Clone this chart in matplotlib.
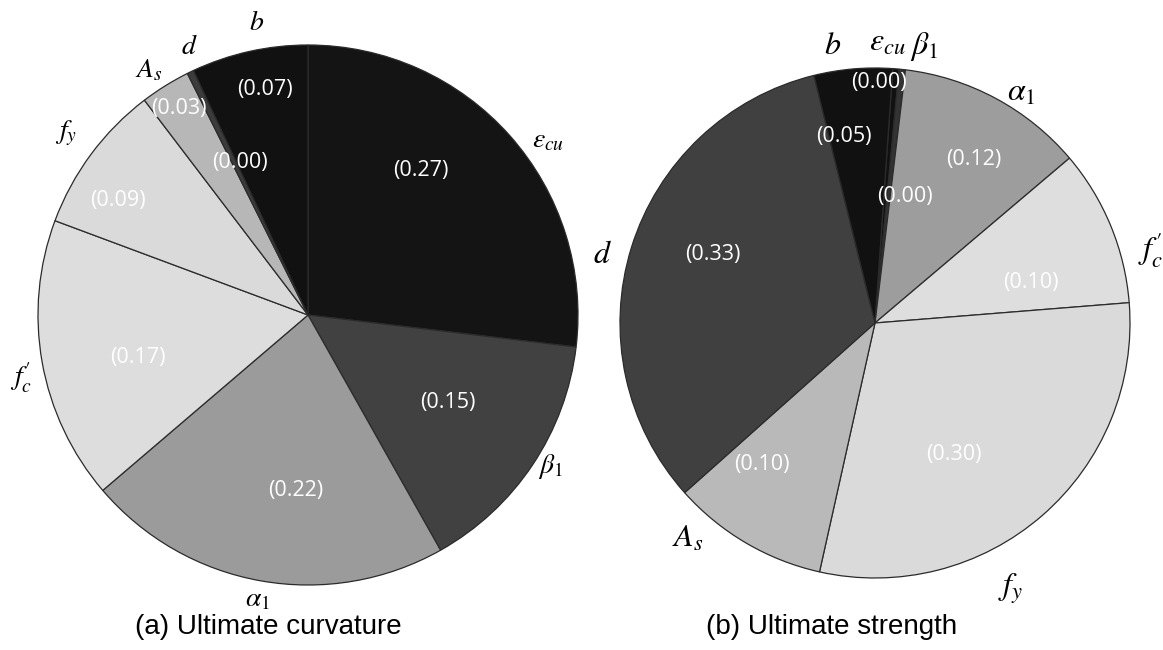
import numpy as np
import matplotlib
matplotlib.use("Agg")
import matplotlib.pyplot as plt

plt.rcParams["mathtext.fontset"] = "stix"
plt.rcParams["font.family"] = ["Liberation Sans", "DejaVu Sans"]

# Sensitivity indices of each input parameter
params = ["eps_cu", "beta1", "alpha1", "fc", "fy", "As", "d", "b"]
param_labels = [r"$\varepsilon_{cu}$", r"$\beta_1$", r"$\alpha_1$",
                r"$f^{\prime}_{c}$", r"$f_y$", r"$A_s$", r"$d$", r"$b$"]
curvature_values = [0.27, 0.15, 0.22, 0.17, 0.09, 0.03, 0.004, 0.07]
strength_values = [0.004, 0.004, 0.12, 0.10, 0.30, 0.10, 0.33, 0.05]
captions = ["(a) Ultimate curvature", "(b) Ultimate strength"]

curvature_colors = ["#141414", "#414141", "#9b9b9b", "#dddddd",
                    "#dadada", "#b7b7b7", "#3c3c3c", "#111111"]
strength_colors = ["#111111", "#333333", "#9d9d9d", "#dedede",
                   "#dadada", "#b9b9b9", "#404040", "#111111"]

# Label placement (polar angle in degrees, radius as fraction of pie radius)
curv_value_pos = [(52, 0.68), (-32, 0.61), (-94, 0.65), (-166, 0.65),
                  (149, 0.82), (122, 0.90), (114, 0.62), (100.8, 0.85)]
curv_name_pos = [(36, 1.10), (-32, 1.06), (-100, 1.07), (-167.6, 1.09),
                 (143, 1.12), (123, 1.08), (114, 1.085), (100, 1.10)]
str_value_pos = [(89, 0.945), (76.6, 0.51), (59, 0.75), (14.5, 0.63),
                 (-59, 0.60), (-128.5, 0.71), (157, 0.69), (99.5, 0.74)]
str_name_pos = [(87.5, 1.10), (80, 1.10), (57.5, 1.07), (15, 1.12),
                (-63, 1.17), (-131, 1.12), (166, 1.10), (98.7, 1.10)]

W, H = 1163, 650
fig = plt.figure(figsize=(W / 100, H / 100), dpi=100)


def pie_axes(cx, cy, r):
    return fig.add_axes([(cx - r) / W, (H - cy - r) / H, 2 * r / W, 2 * r / H])


def draw_pie(ax, values, colors, start, value_pos, name_pos, name_size):
    ax.pie(values, colors=colors, startangle=start, counterclock=False,
           radius=1.0, wedgeprops=dict(edgecolor="#2b2b2b", linewidth=0.9))
    ax.set_xlim(-1, 1)
    ax.set_ylim(-1, 1)
    ax.set_aspect("equal")
    ax.axis("off")
    for v, (ang, rr) in zip(values, value_pos):
        t = np.deg2rad(ang)
        ax.text(rr * np.cos(t), rr * np.sin(t), "({:.2f})".format(v),
                ha="center", va="center", color="white", fontsize=15.5,
                family=["Open Sans", "DejaVu Sans"])
    for lab, (ang, rr) in zip(param_labels, name_pos):
        t = np.deg2rad(ang)
        ax.text(rr * np.cos(t), rr * np.sin(t), lab, ha="center",
                va="center", color="black", fontsize=name_size)


ax1 = pie_axes(308, 315, 270)
draw_pie(ax1, curvature_values, curvature_colors, 90,
         curv_value_pos, curv_name_pos, 20)

ax2 = pie_axes(875, 323, 255)
draw_pie(ax2, strength_values, strength_colors, 86,
         str_value_pos, str_name_pos, 23)

fig.text(268 / W, 1 - 627 / H, captions[0], ha="center", va="center",
         fontsize=20)
fig.text(832 / W, 1 - 627 / H, captions[1], ha="center", va="center",
         fontsize=20)

fig.savefig("out.png", dpi=100, facecolor="white")
